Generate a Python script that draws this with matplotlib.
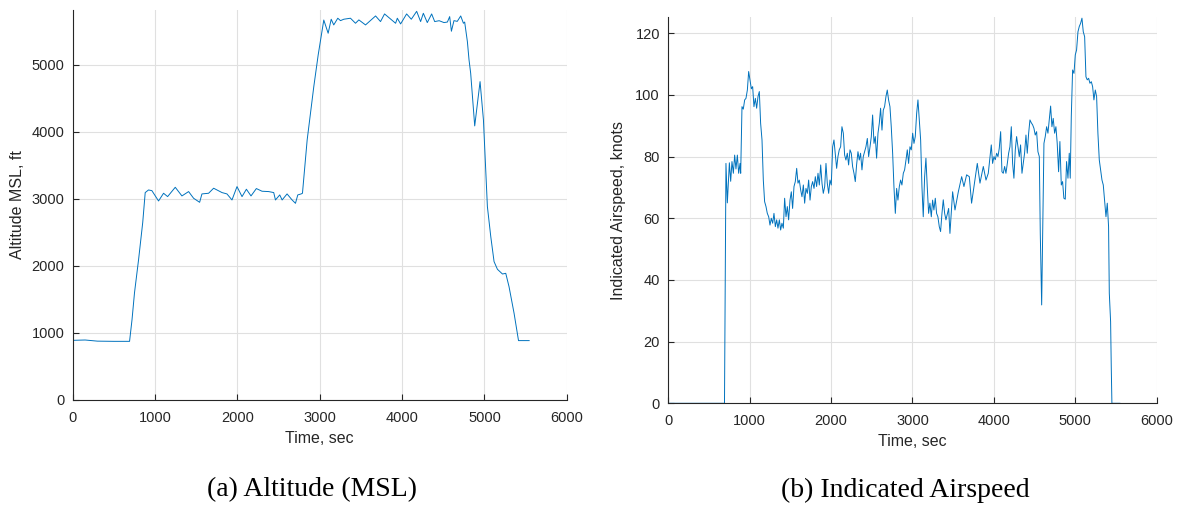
import numpy as np
import matplotlib.pyplot as plt

# altitude trace (MSL, ft)
alt_t = [0, 150, 300, 500, 690, 720, 750, 800, 850, 880, 920, 961, 1042, 1103, 1152,
         1245, 1326, 1407, 1468, 1541, 1569, 1650, 1711, 1813, 1873, 1934, 1995, 2056,
         2109, 2165, 2230, 2299, 2380, 2441, 2462, 2514, 2543, 2603, 2664, 2705, 2733,
         2774, 2790, 2847, 2928, 2981, 3049, 3102, 3139, 3170, 3219, 3252, 3292, 3373,
         3434, 3475, 3556, 3678, 3738, 3787, 3921, 3942, 3982, 4055, 4112, 4177, 4225,
         4258, 4306, 4359, 4396, 4450, 4509, 4550, 4578, 4599, 4630, 4670, 4712, 4745,
         4760, 4793, 4813, 4833, 4882, 4947, 4988, 5036, 5077, 5117, 5158, 5219, 5259,
         5299, 5360, 5414, 5543]
alt_ft = [890, 895, 878, 875, 875, 1200, 1600, 2100, 2650, 3095, 3134, 3124, 2970, 3085,
          3035, 3174, 3045, 3110, 3010, 2950, 3075, 3085, 3160, 3095, 3075, 2985, 3184,
          3035, 3145, 3045, 3155, 3115, 3110, 3095, 2985, 3060, 2985, 3075, 2985, 2935,
          3060, 3075, 3085, 3880, 4680, 5150, 5670, 5473, 5682, 5597, 5697, 5661, 5682,
          5697, 5622, 5672, 5597, 5731, 5647, 5761, 5622, 5697, 5612, 5761, 5682, 5800,
          5647, 5771, 5632, 5761, 5647, 5660, 5632, 5640, 5721, 5503, 5661, 5650, 5731,
          5622, 5640, 5348, 5075, 4876, 4090, 4751, 4180, 2886, 2438, 2065, 1950, 1880,
          1890, 1690, 1294, 886, 886]

# indicated airspeed trace (knots)
ias_t = [0, 690, 708, 725, 750, 766, 782, 799, 815, 831, 848, 864, 881, 889, 905, 921,
         938, 954, 971, 987, 1003, 1020, 1036, 1052, 1069, 1085, 1102, 1118, 1134, 1151,
         1167, 1183, 1200, 1216, 1233, 1249, 1265, 1282, 1298, 1315, 1331, 1347, 1364,
         1380, 1396, 1413, 1429, 1446, 1462, 1478, 1495, 1511, 1527, 1544, 1560, 1577,
         1593, 1609, 1626, 1642, 1659, 1675, 1691, 1708, 1724, 1741, 1757, 1773, 1790,
         1806, 1822, 1839, 1855, 1872, 1888, 1904, 1921, 1937, 1953, 1970, 1986, 2002,
         2019, 2035, 2051, 2068, 2084, 2100, 2117, 2133, 2150, 2166, 2182, 2199, 2215,
         2232, 2248, 2264, 2281, 2297, 2313, 2330, 2346, 2362, 2379, 2395, 2412, 2428,
         2445, 2461, 2478, 2494, 2510, 2527, 2543, 2559, 2576, 2592, 2608, 2625, 2641,
         2657, 2674, 2690, 2706, 2723, 2739, 2756, 2772, 2789, 2805, 2821, 2838, 2854,
         2870, 2887, 2903, 2920, 2936, 2952, 2969, 2985, 3002, 3018, 3034, 3051, 3067,
         3083, 3100, 3116, 3132, 3149, 3165, 3181, 3198, 3214, 3231, 3247, 3263, 3280,
         3296, 3312, 3329, 3345, 3362, 3378, 3395, 3411, 3444, 3460, 3493, 3522, 3563,
         3604, 3632, 3665, 3698, 3726, 3755, 3796, 3829, 3870, 3903, 3931, 3968, 3984,
         4001, 4017, 4034, 4050, 4066, 4083, 4099, 4115, 4132, 4148, 4165, 4181, 4197,
         4214, 4230, 4246, 4263, 4279, 4296, 4312, 4328, 4345, 4361, 4377, 4394, 4410,
         4427, 4443, 4459, 4476, 4492, 4508, 4525, 4541, 4558, 4570, 4587, 4599, 4615,
         4631, 4648, 4664, 4680, 4697, 4713, 4729, 4746, 4762, 4778, 4795, 4811, 4828,
         4844, 4860, 4877, 4893, 4910, 4926, 4938, 4951, 4967, 4984, 5000, 5016, 5033,
         5049, 5065, 5082, 5098, 5115, 5131, 5147, 5164, 5180, 5197, 5213, 5229, 5246,
         5262, 5278, 5295, 5311, 5328, 5344, 5360, 5377, 5393, 5409, 5418, 5434, 5442,
         5450, 5548]
ias_kt = [0, 0, 77.8, 65, 78, 72, 78.4, 74.6, 80.5, 76, 80.5, 74.6, 77.8, 74.6, 96.2,
          95.4, 98.4, 98.9, 101.6, 107.6, 104.9, 102, 102.7, 96.2, 98.9, 95.7, 99.5,
          101.1, 90.8, 85.4, 72.4, 65.4, 63.8, 61.6, 60.5, 57.8, 60, 58.4, 61.6, 57.3,
          59.5, 56.8, 59.5, 56.2, 58.4, 56.8, 66.5, 60.5, 63.8, 59.5, 65.9, 68.6, 63.2,
          70.3, 71.9, 76.2, 71.4, 72.4, 69.2, 67, 70.8, 64.9, 69.7, 68.1, 72.4, 65.9,
          70.3, 71.9, 69.7, 73.5, 70.3, 74.6, 70.8, 77.3, 71.4, 68.1, 70.3, 77.8, 71.4,
          68.1, 72.4, 70.8, 83.2, 85.4, 81.1, 76.2, 80, 82.2, 83.2, 89.7, 87.6, 80.5,
          78.9, 81.1, 77.3, 82.2, 81.1, 76.8, 74.6, 71.9, 77.3, 81.6, 78.9, 81.1, 75.7,
          80, 81.6, 83.2, 85.9, 80, 83.2, 86.5, 93.5, 84.3, 86.5, 79.5, 87.6, 90.8, 95.7,
          88.6, 95.1, 96.2, 99.5, 101.6, 98.4, 96.2, 89.7, 81.1, 70.3, 61.6, 69.7, 65.9,
          70.3, 72.4, 70.8, 74.6, 75.7, 78.9, 82.2, 77.8, 83.2, 82.2, 87.6, 84.3, 86.5,
          94, 98.4, 91.9, 85.4, 70.3, 60.5, 73.5, 79.5, 70.3, 61.6, 64.9, 60.5, 65.9,
          62.7, 66.5, 61.6, 60.5, 57.3, 55.7, 61.6, 66, 61.6, 59.5, 63.2, 55.1, 68.6,
          62.7, 68.6, 73.5, 70.3, 74.1, 73.5, 64.9, 70.3, 77.8, 71.4, 76.8, 72.4, 74.6,
          83.8, 77.8, 80, 79, 81.1, 80, 82.7, 88.1, 75.1, 74.6, 76.8, 74.6, 77.8, 81.1,
          83.2, 89.7, 77.8, 73, 82.2, 86.5, 83.2, 80, 83.8, 74.6, 77.8, 81.1, 87, 81.1,
          87.6, 91.9, 91, 90.3, 89.2, 87, 88.1, 81.6, 80, 55.1, 31.9, 55.1, 84.3, 86.5,
          89.7, 87.6, 91.9, 96.4, 89.7, 92.4, 87.6, 89.7, 84.3, 75.1, 84.9, 70.8, 71.9,
          66.5, 66.2, 78.4, 73, 81.1, 73, 93, 108.1, 107, 113, 114.6, 120.5, 122.2,
          123.2, 124.9, 120.5, 118.9, 105.9, 104.9, 105.4, 103.8, 104.3, 102.7, 98.4,
          101.6, 99.5, 87.6, 78.9, 75.7, 72.4, 70.8, 65.9, 60.5, 64.9, 57.3, 35.7, 26.5,
          11.9, 0, 0]

x_ticks = [0, 1000, 2000, 3000, 4000, 5000, 6000]
alt_ticks = [0, 1000, 2000, 3000, 4000, 5000]
ias_ticks = [0, 20, 40, 60, 80, 100, 120]

LINE = '#0072BD'
AX = '#262626'

plt.rcParams['font.family'] = ['Liberation Sans', 'DejaVu Sans']

fig = plt.figure(figsize=(11.81, 5.12), dpi=100)


def style(ax):
    for s in ['top', 'right']:
        ax.spines[s].set_visible(False)
    for s in ['left', 'bottom']:
        ax.spines[s].set_color(AX)
        ax.spines[s].set_linewidth(0.8)
    ax.grid(True, color='#e0e0e0', linewidth=0.8)
    ax.set_axisbelow(True)
    ax.tick_params(direction='in', length=4, width=0.8, colors=AX,
                   labelsize=10.5, pad=6)
    ax.tick_params(axis='x', pad=8)


ax1 = fig.add_axes([0.0616, 0.2188, 0.4183, 0.7617])
ax1.plot(alt_t, alt_ft, color=LINE, lw=0.7)
ax1.set_xlim(0, 6000)
ax1.set_ylim(0, 5820)
ax1.set_xticks(x_ticks)
ax1.set_yticks(alt_ticks)
style(ax1)
ax1.set_xlabel('Time, sec', fontsize=11.5, color=AX, labelpad=4)
ax1.set_ylabel('Altitude MSL, ft', fontsize=11.5, color=AX, labelpad=5)

ax2 = fig.add_axes([0.5659, 0.2123, 0.4135, 0.754])
ax2.plot(ias_t, ias_kt, color=LINE, lw=0.7)
ax2.set_xlim(0, 6000)
ax2.set_ylim(0, 125.2)
ax2.set_xticks(x_ticks)
ax2.set_yticks(ias_ticks)
style(ax2)
ax2.set_xlabel('Time, sec', fontsize=11.5, color=AX, labelpad=4)
ax2.set_ylabel('Indicated Airspeed, knots', fontsize=11.5, color=AX, labelpad=7)

# sub-figure captions
cap = dict(family=['Liberation Serif', 'DejaVu Serif'], fontsize=20,
           ha='center', va='center', color='black')
fig.text(312 / 1181, 1 - 490 / 512, '(a) Altitude (MSL)', **cap)
fig.text(905 / 1181, 1 - 490 / 512, '(b) Indicated Airspeed', **cap)

fig.savefig('out.png', dpi=100)
